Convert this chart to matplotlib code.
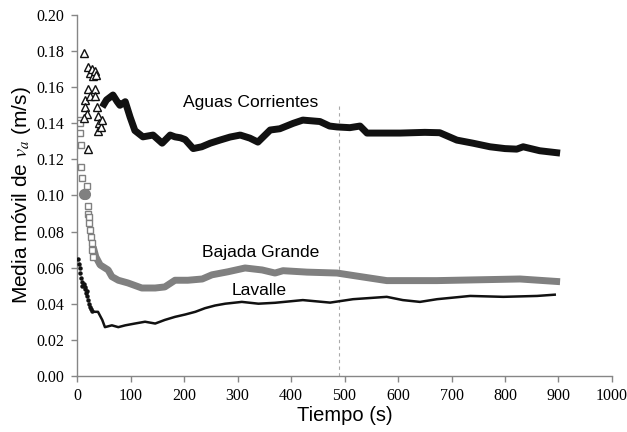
import matplotlib
matplotlib.use("Agg")
import matplotlib.pyplot as plt

plt.rcParams["mathtext.fontset"] = "stix"

# --- Aguas Corrientes ---
aguas_tri_t = [13, 21, 24, 27, 30, 33, 35, 21, 34, 15, 24, 34, 15, 18, 13, 37, 39, 41, 39, 44, 46, 21]
aguas_tri_v = [0.179, 0.171, 0.168, 0.170, 0.166, 0.169, 0.167, 0.159, 0.159, 0.153, 0.155, 0.155,
               0.149, 0.145, 0.143, 0.149, 0.144, 0.140, 0.136, 0.138, 0.142, 0.126]
aguas_t = [47, 55, 67, 75, 80, 90, 99, 108, 123, 142, 159, 174, 183, 193, 202, 217, 233, 249,
           267, 286, 305, 323, 338, 361, 379, 404, 422, 454, 472, 486, 510, 529, 542, 604, 650,
           678, 710, 740, 772, 800, 822, 834, 865, 897, 903]
aguas_v = [0.149, 0.153, 0.1557, 0.152, 0.150, 0.152, 0.1435, 0.136, 0.1325, 0.1335, 0.129,
           0.1335, 0.1325, 0.132, 0.131, 0.126, 0.127, 0.129, 0.1307, 0.1324, 0.1335, 0.1318,
           0.1296, 0.1363, 0.137, 0.140, 0.1418, 0.141, 0.1385, 0.138, 0.1376, 0.1385, 0.1346,
           0.1346, 0.135, 0.1348, 0.1307, 0.129, 0.127, 0.126, 0.1257, 0.127, 0.1248, 0.1237,
           0.1235]

# --- Bajada Grande ---
bajada_sq_t = [6, 5, 6, 7, 7, 9, 18, 20, 21, 22, 23, 24, 26, 27, 28, 30]
bajada_sq_v = [0.142, 0.140, 0.1346, 0.128, 0.116, 0.1097, 0.105, 0.094, 0.090, 0.088, 0.085,
               0.081, 0.077, 0.0737, 0.070, 0.066]
bajada_dot_t = [12, 15]
bajada_dot_v = [0.101, 0.101]
bajada_t = [30, 35, 43, 58, 65, 77, 95, 121, 146, 164, 183, 207, 234, 252, 282, 314, 346, 370,
            385, 430, 486, 530, 579, 673, 828, 903]
bajada_v = [0.0715, 0.066, 0.0615, 0.0587, 0.055, 0.053, 0.0515, 0.0487, 0.0487, 0.0493, 0.053,
            0.053, 0.0537, 0.056, 0.0577, 0.0598, 0.0587, 0.057, 0.0583, 0.0575, 0.057, 0.055,
            0.0528, 0.0528, 0.0537, 0.0522]

# --- Lavalle ---
lavalle_dot_t = [2, 3, 6, 5, 8, 9, 10, 12, 14, 15, 17, 18, 19, 21, 22, 24, 26, 28]
lavalle_dot_v = [0.065, 0.062, 0.060, 0.057, 0.054, 0.052, 0.050, 0.051, 0.048, 0.049, 0.046,
                 0.047, 0.044, 0.042, 0.040, 0.038, 0.037, 0.036]
lavalle_t = [30, 39, 47, 52, 65, 77, 90, 108, 127, 146, 164, 183, 202, 221, 239, 258, 277, 308,
             339, 370, 422, 473, 516, 579, 609, 641, 673, 735, 797, 860, 893]
lavalle_v = [0.0355, 0.0355, 0.031, 0.027, 0.028, 0.027, 0.028, 0.029, 0.030, 0.029, 0.031,
             0.0327, 0.034, 0.0355, 0.0375, 0.039, 0.040, 0.041, 0.040, 0.0405, 0.042, 0.0406,
             0.0425, 0.0438, 0.042, 0.041, 0.0425, 0.0443, 0.0438, 0.0443, 0.045]

x_ticks = [0, 100, 200, 300, 400, 500, 600, 700, 800, 900, 1000]
y_ticks = [0.00, 0.02, 0.04, 0.06, 0.08, 0.10, 0.12, 0.14, 0.16, 0.18, 0.20]
t_ref = 489

fig = plt.figure(figsize=(6.27, 4.32), dpi=100)
ax = fig.add_axes([0.123, 0.130, 0.853, 0.835])

gray = "#808080"
ax.plot(bajada_t, bajada_v, color=gray, lw=5.0, solid_capstyle="butt", zorder=3)
ax.plot(bajada_sq_t, bajada_sq_v, ls="none", marker="s", ms=4.5, mfc="white", mec=gray, mew=1.0, zorder=4)
ax.plot(bajada_dot_t, bajada_dot_v, ls="none", marker="o", ms=7, mfc=gray, mec=gray, zorder=4)

ax.plot(aguas_t, aguas_v, color="#111111", lw=5.0, solid_capstyle="butt", zorder=3)
ax.plot(aguas_tri_t, aguas_tri_v, ls="none", marker="^", ms=5.5, mfc="white", mec="#111111", mew=1.0, zorder=4)

ax.plot(lavalle_t, lavalle_v, color="#111111", lw=1.8, zorder=3)
ax.plot(lavalle_dot_t, lavalle_dot_v, ls="none", marker="o", ms=2.2, color="#111111", zorder=4)

ax.plot([t_ref, t_ref], [0, 0.15], color="#aaaaaa", lw=0.8, ls=(0, (3, 3)), zorder=2)

ax.text(325, 0.1515, "Aguas Corrientes", fontsize=12.6, family="Liberation Sans", ha="center", va="center")
ax.text(344, 0.0685, "Bajada Grande", fontsize=12.6, family="Liberation Sans", ha="center", va="center")
ax.text(340, 0.0475, "Lavalle", fontsize=12.6, family="Liberation Sans", ha="center", va="center")

ax.set_xlim(0, 1000)
ax.set_ylim(0, 0.20)
ax.set_xticks(x_ticks)
ax.set_yticks(y_ticks)
ax.set_xticklabels([str(v) for v in x_ticks], family="Liberation Serif", fontsize=11.5)
ax.set_yticklabels([f"{v:.2f}" for v in y_ticks], family="Liberation Serif", fontsize=11.5)

for side in ("top", "right"):
    ax.spines[side].set_visible(False)
for side in ("left", "bottom"):
    ax.spines[side].set_color("#868686")
    ax.spines[side].set_linewidth(1.0)
ax.tick_params(axis="both", direction="out", length=4, width=1.0, color="#868686", pad=5)

ax.set_xlabel("Tiempo (s)", family="Liberation Sans", fontsize=14.5, labelpad=1)
ax.set_ylabel(r"Media móvil de $v_a$ (m/s)", family="Liberation Sans", fontsize=15, labelpad=3)

fig.savefig("out.png", dpi=100)
